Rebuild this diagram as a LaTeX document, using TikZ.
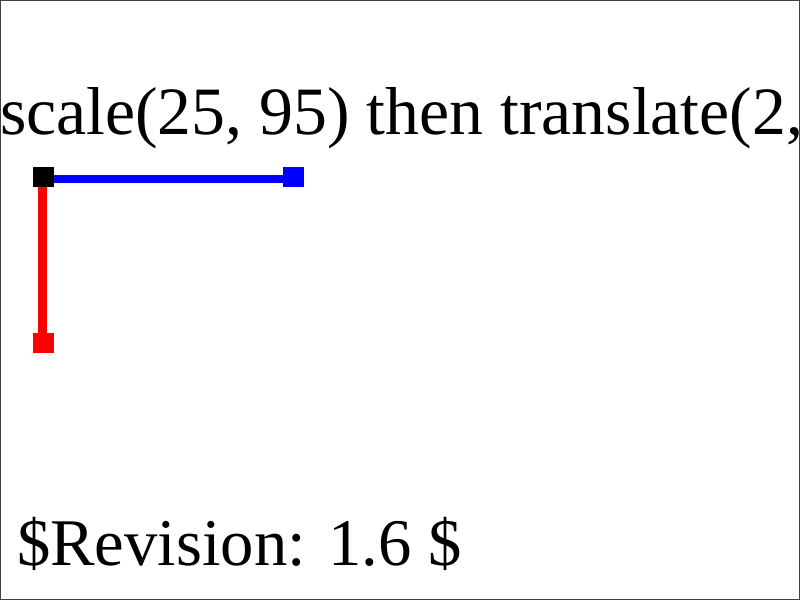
\documentclass[tikz,border=0pt]{standalone}
\usepackage{fontspec}
\setmainfont{Liberation Serif}
\begin{document}
\begin{tikzpicture}[x=0.75pt,y=-0.75pt,
  sq/.style={minimum size=15.5pt,inner sep=0pt,outer sep=0pt},
  lbl/.style={inner sep=0pt,outer sep=0pt,anchor=base west}]
\useasboundingbox (0,0) rectangle (800,600);
\clip (0,0) rectangle (800,600);
\node[lbl,font=\fontsize{50.8pt}{60pt}\selectfont] (title) at (0,134) {scale(25, 95) then translate(2, 1)};
\node[lbl,font=\fontsize{50pt}{60pt}\selectfont] (rev) at (17,565) {\$Revision: 1.6 \$};
\node[sq] (o) at (43.5,177) {};
\node[sq] (bx) at (293.5,177) {};
\node[sq] (ry) at (43.5,343) {};
\draw[blue,line width=6pt] ([yshift=-1.5pt]o.center) -- ([yshift=-1.5pt]bx.center);
\draw[red,line width=6.5pt] ([xshift=-0.75pt]o.center) -- ([xshift=-0.75pt]ry.center);
\fill[black] (o.south west) rectangle (o.north east);
\fill[blue] (bx.south west) rectangle (bx.north east);
\fill[red] (ry.south west) rectangle (ry.north east);
\draw[black!75,line width=0.75pt] (0.5,0.5) rectangle (799.5,599.5);
\end{tikzpicture}
\end{document}
